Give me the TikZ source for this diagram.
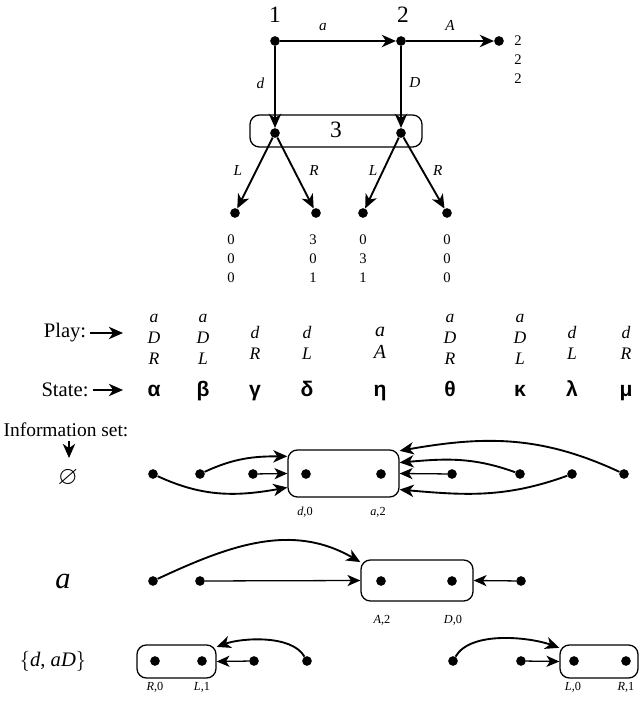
\documentclass[tikz,border=0pt]{standalone}
\usepackage{fontspec}
\setmainfont{Liberation Serif}
\newfontfamily\grk{Liberation Sans}
\usepackage{amssymb}
\usetikzlibrary{arrows.meta,positioning}

\begin{document}
\begin{tikzpicture}[x=0.03cm, y=0.03cm,
    dot/.style={circle, fill=black, inner sep=0pt, minimum size=0.29cm},
    arr/.style={-{Stealth[length=12pt,width=10.5pt,inset=3.5pt]}, line width=1.6pt},
    thinarr/.style={-{Stealth[length=11pt,width=9.5pt,inset=3pt]}, line width=1.1pt},
    iset/.style={draw, rounded corners=8pt, line width=1.1pt, inner sep=0pt},
    lab/.style={font=\fontsize{13}{15}\selectfont\itshape},
    pay/.style={font=\fontsize{12.5}{16.2}\selectfont, align=center},
    play/.style={font=\fontsize{15}{18}\selectfont\itshape, align=center},
    st/.style={font=\fontsize{18}{20}\selectfont\grk\bfseries, anchor=base},
    txt/.style={font=\fontsize{17.6}{20}\selectfont},
    pl/.style={font=\fontsize{20}{22}\selectfont},
    sub/.style={font=\fontsize{10.5}{12}\selectfont}]
    \useasboundingbox (0,0) rectangle (638,704);

    % game tree
    \node[dot] (n1) at (275,663) {};
    \node[dot] (n2) at (401,663) {};
    \node[dot] (tA) at (499,663) {};
    \node[dot] (x1) at (275,571) {};
    \node[dot] (x2) at (401,571) {};
    \node[dot] (l1) at (235,491) {};
    \node[dot] (r1) at (316,491) {};
    \node[dot] (l2) at (363,491) {};
    \node[dot] (r2) at (447,491) {};
    \node[pl] (one) at (275,689) {1};
    \node[pl] (two) at (403,689) {2};
    \draw[iset] (250,557) rectangle (422,589);
    \node[pl] (three) at (336,574) {3};

    \draw[arr] (n1) -- node[lab, above=5pt, pos=0.37] (ea) {a} (n2);
    \draw[arr] (n2) -- node[lab, above=5pt] (eA) {A} (tA);
    \draw[arr] (n1) -- node[lab, left=5pt, pos=0.45] (ed) {d} (x1);
    \draw[arr] (n2) -- node[lab, right=3pt, pos=0.45] (eD) {D} (x2);
    \draw[arr] (x1) -- node[lab, left=8pt, pos=0.46] (eL1) {L} (l1);
    \draw[arr] (x1) -- node[lab, right=9pt, pos=0.46] (eR1) {R} (r1);
    \draw[arr] (x2) -- node[lab, left=1pt, pos=0.46] (eL2) {L} (l2);
    \draw[arr] (x2) -- node[lab, right=5pt, pos=0.46] (eR2) {R} (r2);

    \node[pay] (p0) at (518,644) {2\\2\\2};
    \node[pay] (p1) at (231,445) {0\\0\\0};
    \node[pay] (p2) at (313,445) {3\\0\\1};
    \node[pay] (p3) at (363,445) {0\\3\\1};
    \node[pay] (p4) at (447,445) {0\\0\\0};

    % plays and states
    \node[txt] (play) at (65,371) {Play:};
    \coordinate (playend) at (123,371);
    \draw[arr] (play) -- (playend);
    \node[play] (pa) at (154,365) {a\\D\\R};
    \node[play] (pb) at (203,365) {a\\D\\L};
    \node[play] (pc) at (255,361) {d\\R};
    \node[play] (pd) at (307,361) {d\\L};
    \node[play, font=\fontsize{17}{19}\selectfont\itshape] (ph) at (380,361) {a\\A};
    \node[play] (pt) at (450,365) {a\\D\\R};
    \node[play] (pk) at (520,365) {a\\D\\L};
    \node[play] (pl) at (572,361) {d\\L};
    \node[play] (pm) at (626,361) {d\\R};

    \node[txt] (state) at (65,314) {State:};
    \coordinate (stateend) at (123,314);
    \draw[arr] (state) -- (stateend);
    \foreach \n/\x/\s in {sa/154/α, sb/203/β, sc/255/γ, sd/307/δ, sh/380/η,
                          st/450/θ, sk/520/κ, sl/572/λ, sm/626/μ}
        \node[st] (\n) at (\x,307) {\s};

    % information sets
    \node[txt, font=\fontsize{16.6}{20}\selectfont] (info) at (66,274) {Information set:};
    \coordinate (infoend) at (69,246);
    \draw[arr] (info.south -| infoend) -- (infoend);
    \node[font=\fontsize{22}{22}\selectfont] (empty) at (68,226) {$\varnothing$};
    \node[font=\fontsize{26}{26}\selectfont\itshape] (ra) at (63,123) {a};
    \node[txt] (rd) at (53,43) {$\{$\textit{d}, \textit{aD}$\}$};

    \foreach \n/\x in {a/153,b/200,c/253,d/306,h/381,t/452,k/520,l/572,m/624}
        \node[dot] (u\n) at (\x,230) {};
    \node[iset, minimum width=3.33cm, minimum height=1.41cm] (b1) at (343.5,230.5) {};
    \node[sub] (s1) at (305,192) {\textit{d},0};
    \node[sub] (s2) at (378,192) {\textit{a},2};
    \draw[arr] (ua) to[out=-25, in=190] (b1.194);
    \draw[arr] (ub) to[out=25, in=180] (b1.163);
    \draw[thinarr] (uc) -- (b1.west);
    \draw[thinarr] (ut) -- (b1.east);
    \draw[arr] (uk) to[out=160, in=5] (b1.11);
    \draw[arr] (ul) to[out=200, in=-5] (b1.344);
    \draw[arr] (um) to[out=155, in=10] (b1.22);

    \foreach \n/\x in {a/153,b/200,h/381,t/452,k/521}
        \node[dot] (v\n) at (\x,123) {};
    \node[iset, minimum width=3.36cm, minimum height=1.23cm] (b2) at (417,123.5) {};
    \node[sub] (s3) at (382,84) {\textit{A},2};
    \node[sub] (s4) at (453,84) {\textit{D},0};
    \draw[arr] (va) to[out=25, in=150] (b2.162);
    \draw[thinarr] (vb) -- (b2.west);
    \draw[thinarr] (vk) -- (b2.east);

    \foreach \n/\x in {a/155,b/202,c/254,d/307,t/453,k/521,l/574,m/626}
        \node[dot] (w\n) at (\x,43) {};
    \node[iset, minimum width=2.37cm, minimum height=0.99cm] (b3) at (176.5,42.5) {};
    \node[iset, minimum width=2.34cm, minimum height=0.99cm] (b4) at (599,42.5) {};
    \node[sub] (s5) at (155,17) {\textit{R},0};
    \node[sub] (s6) at (202,17) {\textit{L},1};
    \node[sub] (s7) at (573,17) {\textit{L},0};
    \node[sub] (s8) at (626,17) {\textit{R},1};
    \draw[thinarr] (wc) -- (b3.east);
    \draw[arr] (wd) to[out=120, in=20, looseness=0.75] (b3.20);
    \draw[arr] (wt) to[out=60, in=160, looseness=0.75] (b4.161);
    \draw[thinarr] (wk) -- (b4.west);
\end{tikzpicture}
\end{document}
